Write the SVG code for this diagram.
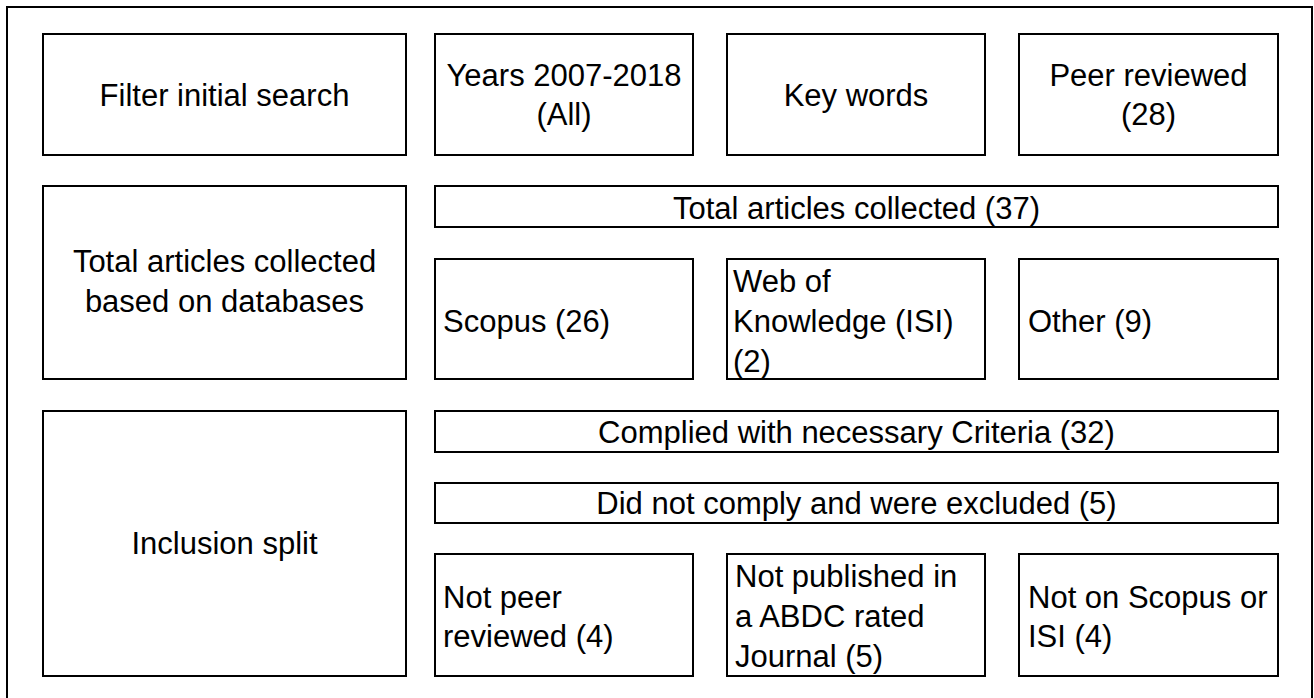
<svg xmlns="http://www.w3.org/2000/svg" width="1314" height="698" viewBox="0 0 1314 698">
<style>
.box{fill:#fff;stroke:#000;stroke-width:2}
.frame{fill:#fff;stroke:#000;stroke-width:2}
text{font-family:"Liberation Sans",Arial,sans-serif;font-size:31px;fill:#000}
.c{text-anchor:middle}
</style>
<rect width="1314" height="698" fill="#fff"/>
<rect class="frame" x="7" y="7" width="1305" height="720"/>
<g id="connectors"></g>
<g id="filter"><rect class="box" x="43" y="34" width="363" height="121"/><text class="c" x="224.5" y="106">Filter initial search</text></g>
<g id="years"><rect class="box" x="435" y="34" width="258" height="121"/><text class="c" x="564" y="86">Years 2007-2018</text><text class="c" x="564" y="125">(All)</text></g>
<g id="keywords"><rect class="box" x="727" y="34" width="258" height="121"/><text class="c" x="856" y="106">Key words</text></g>
<g id="peer"><rect class="box" x="1019" y="34" width="259" height="121"/><text class="c" x="1148.5" y="86">Peer reviewed</text><text class="c" x="1148.5" y="125">(28)</text></g>
<g id="databases"><rect class="box" x="43" y="186" width="363" height="193"/><text class="c" x="224.5" y="272">Total articles collected</text><text class="c" x="224.5" y="312">based on databases</text></g>
<g id="total"><rect class="box" x="435" y="186" width="843" height="41"/><text class="c" x="856.5" y="219">Total articles collected (37)</text></g>
<g id="scopus"><rect class="box" x="435" y="259" width="258" height="120"/><text x="443" y="332">Scopus (26)</text></g>
<g id="wok"><rect class="box" x="727" y="259" width="258" height="120"/><text x="733" y="292">Web of</text><text x="733" y="332">Knowledge (ISI)</text><text x="733" y="372">(2)</text></g>
<g id="other"><rect class="box" x="1019" y="259" width="259" height="120"/><text x="1028" y="332">Other (9)</text></g>
<g id="inclusion"><rect class="box" x="43" y="411" width="363" height="265"/><text class="c" x="224.5" y="554">Inclusion split</text></g>
<g id="complied"><rect class="box" x="435" y="411" width="843" height="41"/><text class="c" x="856.5" y="443">Complied with necessary Criteria (32)</text></g>
<g id="excluded"><rect class="box" x="435" y="483" width="843" height="40"/><text class="c" x="856.5" y="514">Did not comply and were excluded (5)</text></g>
<g id="notpeer"><rect class="box" x="435" y="554" width="258" height="122"/><text x="443" y="608">Not peer</text><text x="443" y="647">reviewed (4)</text></g>
<g id="abdc"><rect class="box" x="727" y="554" width="258" height="122"/><text x="735" y="587">Not published in</text><text x="735" y="627">a ABDC rated</text><text x="735" y="667">Journal (5)</text></g>
<g id="notscopus"><rect class="box" x="1019" y="554" width="259" height="122"/><text x="1028" y="608">Not on Scopus or</text><text x="1028" y="647">ISI (4)</text></g>
</svg>
